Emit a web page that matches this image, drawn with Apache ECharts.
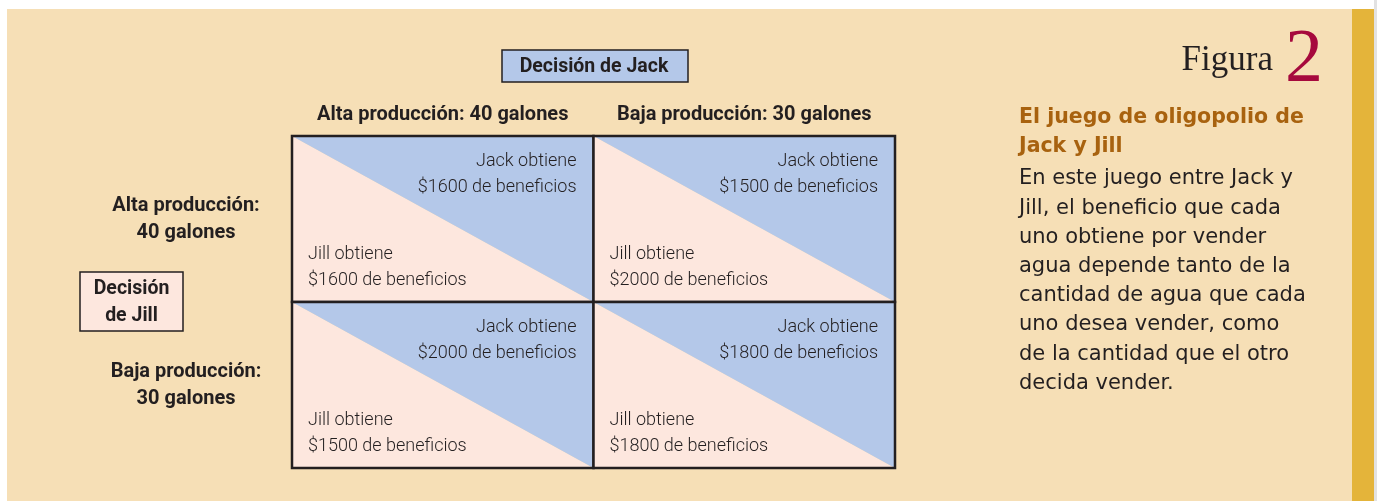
<!DOCTYPE html>
<html>
<head>
<meta charset="utf-8">
<script src="https://cdn.jsdelivr.net/npm/echarts@6/dist/echarts.min.js"></script>
<style>
html,body{margin:0;padding:0;background:#ffffff;}
#chart{width:1377px;height:501px;}
</style>
</head>
<body>
<div id="chart"></div>
<script>
// Strategies (column = Jack, row = Jill)
const jackStrategies = ['Alta producción: 40 galones', 'Baja producción: 30 galones'];
const jillStrategies = ['Alta producción:\n40 galones', 'Baja producción:\n30 galones'];
// Payoffs indexed [jillRow][jackCol]
const jackProfit = [[1600, 1500], [2000, 1800]];
const jillProfit = [[1600, 2000], [1500, 1800]];
const jackLabel = 'Decisión de Jack';
const jillLabel = 'Decisión\nde Jill';
const figureWord = 'Figura';
const figureNumber = '2';
const captionTitle = ['El juego de oligopolio de', 'Jack y Jill'];
const captionBody = ['En este juego entre Jack y', 'Jill, el beneficio que cada', 'uno obtiene por vender', 'agua depende tanto de la', 'cantidad de agua que cada', 'uno desea vender, como', 'de la cantidad que el otro', 'decida vender.'];

const BEIGE = '#f6dfb6', GOLD = '#e4b43a', BLUE = '#b4c8e9', PINK = '#fde7de', INK = '#231f20';
const NARROW = 'Roboto,"Liberation Sans",sans-serif';
const SANS = '"DejaVu Sans",sans-serif';
const SERIF = '"Liberation Serif","DejaVu Serif",serif';

const cells = [];
for (let r = 0; r < jillStrategies.length; r++) {
  for (let c = 0; c < jackStrategies.length; c++) {
    cells.push([c, r, jackProfit[r][c], jillProfit[r][c]]);
  }
}

const chart = echarts.init(document.getElementById('chart'), null, {renderer: 'canvas'});

const graphics = [
  {type: 'rect', shape: {x: 7, y: 9, width: 1345, height: 492}, style: {fill: BEIGE}, z: -10, silent: true},
  {type: 'rect', shape: {x: 1352, y: 9, width: 22, height: 492}, style: {fill: GOLD}, z: -10, silent: true},
  {type: 'rect', shape: {x: 1374, y: 0, width: 3, height: 501}, style: {fill: '#e2e2e2'}, z: -10, silent: true},
  // Jack decision box
  {type: 'rect', shape: {x: 502, y: 50, width: 186, height: 32}, style: {fill: BLUE, stroke: INK, lineWidth: 1.5}, z: 5},
  {type: 'text', x: 594, y: 67, style: {text: jackLabel, font: 'bold 19.5px ' + NARROW, fill: INK, align: 'center', verticalAlign: 'middle'}, z: 6},
  // Jill decision box
  {type: 'rect', shape: {x: 80, y: 272, width: 103, height: 59}, style: {fill: PINK, stroke: INK, lineWidth: 1.5}, z: 5},
  {type: 'text', x: 131.5, y: 302.5, style: {text: jillLabel, font: 'bold 19.5px ' + NARROW, lineHeight: 27, fill: INK, align: 'center', verticalAlign: 'middle'}, z: 6},
  // Figure label
  {type: 'text', x: 1273, y: 61, style: {text: figureWord, font: '35px ' + SERIF, fill: INK, align: 'right', verticalAlign: 'middle'}, z: 6},
  {type: 'text', x: 1304, y: 61, style: {text: figureNumber, font: '76px ' + SERIF, fill: '#a6093d', align: 'center', verticalAlign: 'middle'}, z: 6}
];
captionTitle.forEach((t, i) => {
  graphics.push({type: 'text', x: 1019, y: 118 + i * 29, style: {text: t, font: 'bold 20.5px ' + SANS, fill: '#a8620f', align: 'left', verticalAlign: 'middle'}, z: 6});
});
captionBody.forEach((t, i) => {
  graphics.push({type: 'text', x: 1019, y: 179 + i * 29.2, style: {text: t, font: '21px ' + SANS, fill: INK, align: 'left', verticalAlign: 'middle'}, z: 6});
});

function renderCell(params, api) {
  const c = api.value(0), r = api.value(1);
  const center = api.coord([c, r]);
  const size = api.size([1, 1]);
  const w = size[0], h = size[1];
  const x0 = center[0] - w / 2, y0 = center[1] - h / 2;
  const x1 = x0 + w, y1 = y0 + h;
  const jack = api.value(2), jill = api.value(3);
  return {
    type: 'group',
    children: [
      {type: 'polygon', shape: {points: [[x0, y0], [x0, y1], [x1, y1]]}, style: {fill: PINK}},
      {type: 'polygon', shape: {points: [[x0, y0], [x1, y0], [x1, y1]]}, style: {fill: BLUE}},
      {type: 'text', style: {text: 'Jack obtiene\n$' + jack + ' de beneficios', x: x1 - 17, y: y0 + 12, font: '300 18px ' + NARROW, lineHeight: 26, fill: INK, align: 'right', verticalAlign: 'top', textAlign: 'right', textVerticalAlign: 'top'}},
      {type: 'text', style: {text: 'Jill obtiene\n$' + jill + ' de beneficios', x: x0 + 16, y: y1 - 9, font: '300 18px ' + NARROW, lineHeight: 26, fill: INK, align: 'left', verticalAlign: 'bottom', textAlign: 'left', textVerticalAlign: 'bottom'}},
      {type: 'rect', shape: {x: x0, y: y0, width: w, height: h}, style: {fill: 'none', stroke: INK, lineWidth: 2.5}}
    ]
  };
}

chart.setOption({
  backgroundColor: '#ffffff',
  animation: false,
  graphic: graphics,
  grid: {left: 292, top: 136, width: 603, height: 332},
  xAxis: {
    type: 'category', position: 'top', data: jackStrategies,
    axisLine: {show: false}, axisTick: {show: false}, splitLine: {show: false},
    axisLabel: {interval: 0, margin: 21, verticalAlign: 'middle', color: INK, fontFamily: NARROW, fontWeight: 'bold', fontSize: 20}
  },
  yAxis: {
    type: 'category', inverse: true, data: jillStrategies,
    axisLine: {show: false}, axisTick: {show: false}, splitLine: {show: false},
    axisLabel: {interval: 0, margin: 106, align: 'center', lineHeight: 27, color: INK, fontFamily: NARROW, fontWeight: 'bold', fontSize: 20}
  },
  series: [{
    type: 'custom',
    renderItem: renderCell,
    data: cells,
    encode: {x: 0, y: 1},
    silent: true
  }]
});
</script>
</body>
</html>
